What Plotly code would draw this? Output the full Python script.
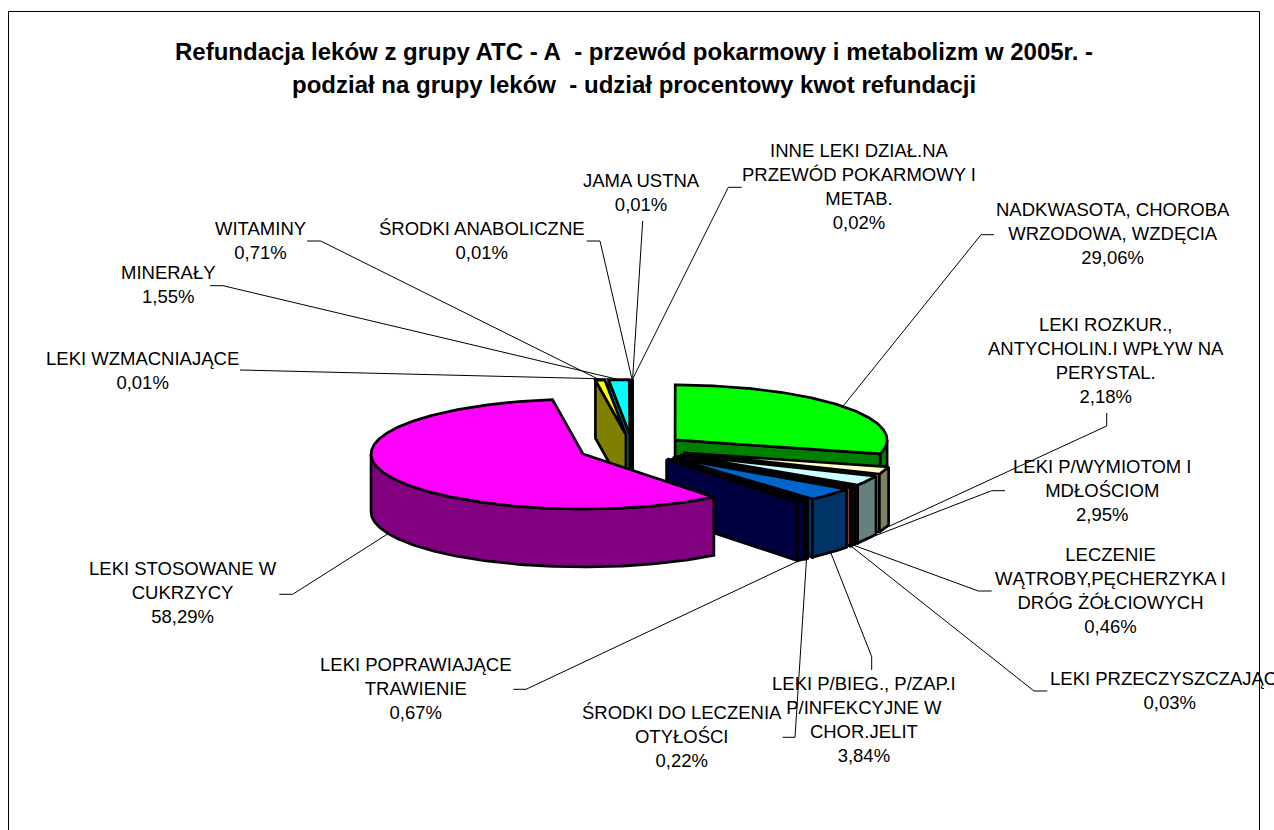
import numpy as np
import plotly.graph_objects as go

# ---- data (clockwise from 12 o'clock) ----
labels = [
    "JAMA USTNA",
    "NADKWASOTA, CHOROBA<br>WRZODOWA, WZDĘCIA",
    "LEKI ROZKUR.,<br>ANTYCHOLIN.I WPŁYW NA<br>PERYSTAL.",
    "LEKI P/WYMIOTOM I<br>MDŁOŚCIOM",
    "LECZENIE<br>WĄTROBY,PĘCHERZYKA I<br>DRÓG ŻÓŁCIOWYCH",
    "LEKI PRZECZYSZCZAJĄCE",
    "LEKI P/BIEG., P/ZAP.I<br>P/INFEKCYJNE W<br>CHOR.JELIT",
    "ŚRODKI DO LECZENIA<br>OTYŁOŚCI",
    "LEKI POPRAWIAJĄCE<br>TRAWIENIE",
    "LEKI STOSOWANE W<br>CUKRZYCY",
    "WITAMINY",
    "MINERAŁY",
    "LEKI WZMACNIAJĄCE",
    "ŚRODKI ANABOLICZNE",
    "INNE LEKI DZIAŁ.NA<br>PRZEWÓD POKARMOWY I<br>METAB.",
]
shares = [0.01, 29.06, 2.18, 2.95, 0.46, 0.03, 3.84, 0.22, 0.67, 58.29, 0.71, 1.55, 0.01, 0.01, 0.02]
top_colors = ["#9999FF", "#00FF00", "#FFFFCC", "#CCFFFF", "#660066", "#FF8080", "#0066CC", "#CCCCFF",
              "#000080", "#FF00FF", "#FFFF00", "#00FFFF", "#800080", "#800000", "#008080"]
side_colors = ["#4D4D80", "#008000", "#808066", "#668080", "#330033", "#804040", "#003366", "#666680",
               "#000040", "#800080", "#808000", "#008080", "#400040", "#400000", "#004040"]
title_lines = ["Refundacja leków z grupy ATC - A\u00a0 - przewód pokarmowy i metabolizm w 2005r. -",
               "podział na grupy leków\u00a0 - udział procentowy kwot refundacji"]

# ---- layout of the chart (pixels) ----
CX, CY = 632.5, 448.5
A, B = 212.0, 55.0
DEPTH = 58.0
EXPLODE = 53.8
OUTLINE = 2.7
FONT = "Liberation Sans, Arial, sans-serif"
# label centre x, centre y of the text block; elbow and stub of its leader
label_pos = [
    (641, 192.5, [(642.7, 221)]),
    (1113, 233, [(994, 234.7), (981, 234.7)]),
    (1106, 360.5, [(1106.7, 413), (1106.7, 426)]),
    (1102, 490.5, [(1005, 490.7), (991.7, 490.7)]),
    (1110, 590, [(991.7, 591), (978.3, 591)]),
    (1170, 690, [(1047.3, 691), (1034, 691)]),
    (864, 719.5, [(871.7, 670), (871.7, 656.7)]),
    (682, 736.5, [(782.7, 737.3), (795, 737.3)]),
    (416, 688.5, [(513.3, 689.3), (526, 689.3)]),
    (183, 592.5, [(279.3, 594.3), (292.7, 594.3)]),
    (260, 240, [(307, 241), (320.7, 241)]),
    (168, 284, [(210, 285.7), (223, 285.7)]),
    (142, 370, [(240, 370)]),
    (482, 240, [(586.7, 241), (600, 241)]),
    (859, 186.5, [(741.7, 187.3), (728.3, 187.3)]),
]

vals = np.array(shares)
edges = np.concatenate([[0], np.cumsum(vals)]) / vals.sum() * 360.0
starts, ends = edges[:-1], edges[1:]
mids = (starts + ends) / 2


def on_ellipse(deg, cx, cy, drop=0.0):
    r = np.radians(deg)
    return cx + A * np.sin(r), cy - B * np.cos(r) + drop


def centre(i):
    r = np.radians(mids[i])
    return CX + EXPLODE * np.sin(r), CY - EXPLODE * (B / A) * np.cos(r)


fig = go.Figure()


def poly(xs, ys, colour):
    fig.add_trace(go.Scatter(x=list(xs), y=list(ys), mode="lines", fill="toself", fillcolor=colour,
                             line=dict(color="black", width=OUTLINE), hoverinfo="skip", showlegend=False))


def wall(i, deg):
    cx, cy = centre(i)
    px, py = on_ellipse(deg, cx, cy)
    poly([cx, px, px, cx, cx], [cy, py, py + DEPTH, cy + DEPTH, cy], side_colors[i])


# leader lines lie behind the pie
for i, (lx, ly, pts) in enumerate(label_pos):
    cx, cy = centre(i)
    front = np.cos(np.radians(mids[i])) < 0
    ax, ay = on_ellipse(mids[i], cx, cy, DEPTH if front else 0.0)
    path = pts + [(ax, ay)]
    fig.add_trace(go.Scatter(x=[p[0] for p in path], y=[p[1] for p in path], mode="lines",
                             line=dict(color="black", width=1), hoverinfo="skip", showlegend=False))

# painter's order: back-left slices from the top going left, then the right side going down, magenta last
order = [14, 13, 12, 11, 10, 0, 1, 2, 3, 4, 5, 6, 7, 8, 9]
for i in order:
    cx, cy = centre(i)
    s, e = starts[i], ends[i]
    if np.sin(np.radians(e)) > 0:
        wall(i, e)
    if np.sin(np.radians(s)) < 0:
        wall(i, s)
    lo, hi = max(s, 90.0), min(e, 270.0)
    if hi > lo:
        t = np.linspace(lo, hi, max(2, int((hi - lo) * 2) + 2))
        x, y = on_ellipse(t, cx, cy)
        poly(np.concatenate([x, x[::-1], x[:1]]),
             np.concatenate([y, (y + DEPTH)[::-1], y[:1]]), side_colors[i])
    t = np.linspace(s, e, max(2, int((e - s) * 2) + 2))
    x, y = on_ellipse(t, cx, cy)
    poly(np.concatenate([[cx], x, [cx]]), np.concatenate([[cy], y, [cy]]), top_colors[i])

annotations = []
for name, v, (lx, ly, _) in zip(labels, shares, label_pos):
    txt = name + "<br>" + f"{v:.2f}".replace(".", ",") + "%"
    annotations.append(dict(x=lx, y=ly, xref="x", yref="y", text=txt, showarrow=False, align="center",
                            xanchor="center", yanchor="middle",
                            font=dict(family=FONT, size=18.5, color="black")))
for line, ty in zip(title_lines, (51, 84)):
    annotations.append(dict(x=634, y=ty, xref="x", yref="y", text="<b>" + line + "</b>", showarrow=False,
                            xanchor="center", yanchor="middle",
                            font=dict(family=FONT, size=24, color="black")))

fig.update_layout(
    width=1274, height=830, margin=dict(l=0, r=0, t=0, b=0),
    paper_bgcolor="white", plot_bgcolor="white", showlegend=False,
    xaxis=dict(range=[0, 1274], visible=False, fixedrange=True),
    yaxis=dict(range=[830, 0], visible=False, fixedrange=True),
    annotations=annotations,
    shapes=[dict(type="rect", xref="x", yref="y", x0=8.5, y0=11.5, x1=1259.5, y1=840,
                 line=dict(color="black", width=1), layer="below")],
)
fig.write_html("out.html", config=dict(displayModeBar=False),
               post_script="document.body.style.margin='0';document.body.style.overflow='hidden';")
